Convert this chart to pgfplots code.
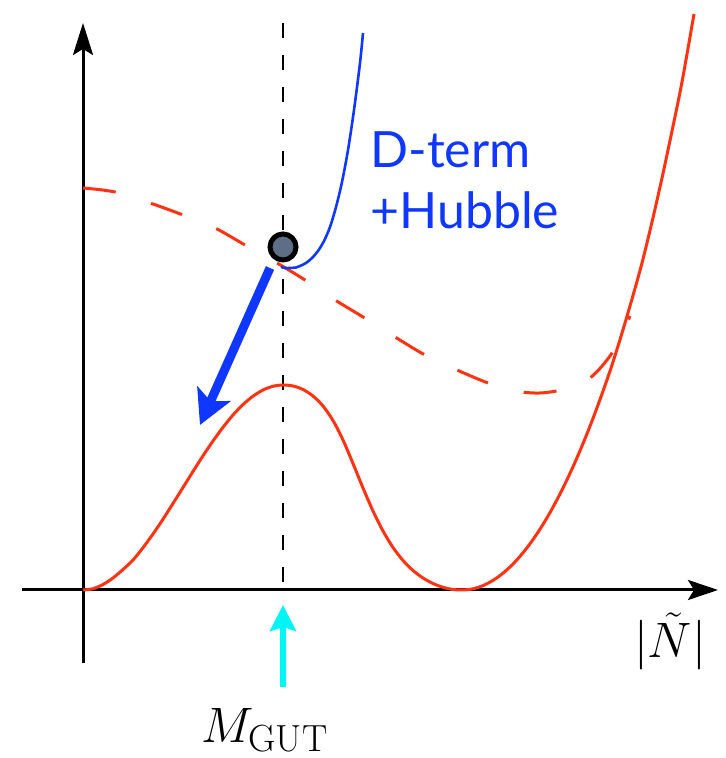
\documentclass[border=0pt]{standalone}
\usepackage{fontspec}
\usepackage{pgfplots}
\pgfplotsset{compat=1.18}
\usetikzlibrary{arrows.meta}
\newfontfamily\labelfont{Lato}
\definecolor{potred}{RGB}{255,51,17}
\definecolor{dblue}{RGB}{15,55,255}
\definecolor{fieldgray}{RGB}{95,110,135}
\definecolor{gutcyan}{RGB}{0,245,245}

% potential at zero temperature (double well)
\pgfplotstableread{
x y
0 0
10 1.3
20 5.5
30 12
40 20.5
50 30
60 42.3
70 56
80 70.8
90 86.5
100 102.5
110 118.5
120 134.2
130 149
140 162.7
150 175
160 185.4
170 193.8
180 200
190 203.7
200 205
210 204
220 200.5
230 194
240 184
250 169.5
260 150
270 126.5
280 102
290 79
300 59
310 42.5
320 29.5
330 19.5
340 12
350 6.5
360 2.7
370 0.5
379 0
389 1
399 4
409 9
419 16
429 25
439 36
449 49
459 64
469 81
479 100
489 121
499 144
509 169
519 196
529 225
539 257
549 291
559 327
569 368
579 412
589 459
599 508
611 576
}\vzero

% potential with thermal / Hubble corrections
\pgfplotstableread{
x y
0 402
32 398
67 387
100 375
132 362
162 345
194 327
222 310
252 290
280 273
312 253
342 235
374 220
405 207
432 199
457 197
482 201
507 212
529 237
547 274
}\vhub

% D-term + Hubble potential
\pgfplotstableread{
x y
198 323
202 322
207 322
213 322.5
217 324
223 327
229 332
235 339
241 349
247 363
253 383
259 408
265 440
271 480
277 527
280 557
}\vdterm

\begin{document}
\begin{tikzpicture}
\begin{axis}[
  x=0.5pt, y=0.5pt,
  xmin=-83, xmax=642, ymin=-168, ymax=590,
  scale only axis, hide axis, clip=false,
]
\path (rel axis cs:0,0) rectangle (rel axis cs:1,1);

% axes
\addplot[black, line width=1.5pt, -{Stealth[length=15pt,width=10pt,inset=3pt]}]
  coordinates {(-61,0) (635,0)};
\addplot[black, line width=1.5pt, -{Stealth[length=16pt,width=10pt,inset=3pt]}]
  coordinates {(0,-73) (0,567)};

% GUT scale marker
\addplot[black, line width=1.4pt, dash pattern=on 7.5pt off 8.5pt]
  coordinates {(200,567) (200,0)};

\addplot[potred, line width=1.5pt, dash pattern=on 16.5pt off 18.5pt, smooth]
  table[x=x, y=y] {\vhub};
\addplot[potred, line width=1.5pt, smooth] table[x=x, y=y] {\vzero};
\addplot[dblue, line width=1.3pt, smooth] table[x=x, y=y] {\vdterm};

% roll-down of the field
\addplot[dblue, line width=4.5pt, -{Stealth[length=17pt,width=18pt,inset=4pt]}]
  coordinates {(187,322) (117,165)};

\addplot[gutcyan, line width=3pt, -{Stealth[length=13pt,width=13pt,inset=2pt]}]
  coordinates {(200,-97) (200,-15)};

\addplot[only marks, mark=*, mark size=6.5pt,
  mark options={fill=fieldgray, draw=black, line width=2.5pt}]
  coordinates {(200,343)};

\node[anchor=base west, text=dblue, inner sep=0pt,
  font=\labelfont\fontsize{25}{30}\selectfont] at (axis cs:287,422) {D-term};
\node[anchor=base west, text=dblue, inner sep=0pt,
  font=\labelfont\fontsize{25}{30}\selectfont] at (axis cs:287,361) {+Hubble};

\node[anchor=base, inner sep=0pt, font=\fontsize{29}{34}\selectfont]
  at (axis cs:587,-68) {$|\tilde{N}|$};
\node[anchor=base west, inner sep=0pt, font=\fontsize{27}{32}\selectfont]
  at (axis cs:118,-152) {$M_{\mathrm{GUT}}$};
\end{axis}
\end{tikzpicture}
\end{document}
